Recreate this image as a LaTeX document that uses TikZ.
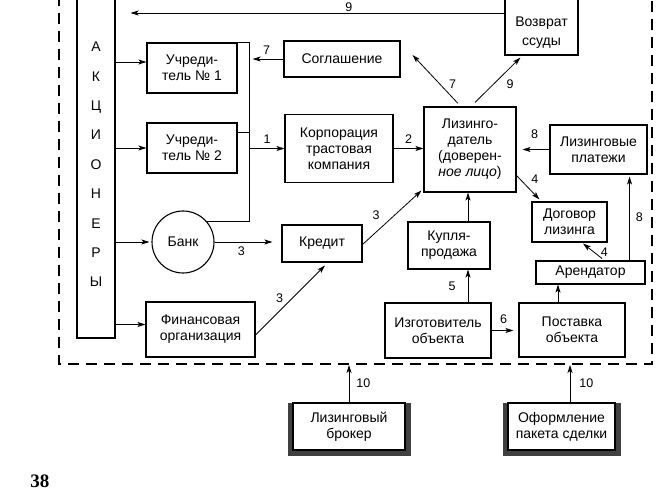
\documentclass[tikz,border=0pt]{standalone}
\usepackage{fontspec}
\setmainfont{Liberation Sans}
\newfontfamily\pagefont{Liberation Serif}
\usetikzlibrary{arrows.meta,calc,backgrounds}
\begin{document}
\begin{tikzpicture}[x=1pt,y=-1pt,
  box/.style={draw, line width=1.1pt, fill=white, inner sep=0pt, align=center, font=\fontsize{14}{16}\selectfont},
  txt/.style={inner sep=0pt, align=center, font=\fontsize{14}{19}\selectfont},
  arr/.style={-{Stealth[length=8pt,width=5pt,inset=2pt]}, line width=0.8pt},
  ln/.style={line width=0.8pt},
  num/.style={font=\fontsize{12.5}{14}\selectfont, inner sep=1pt},
  frame/.style={dash pattern=on 11pt off 7pt, line width=1.1pt},
  shade/.style={fill=black!75}]
\useasboundingbox (0,0) rectangle (669,494);

% dashed frame
\coordinate (frTL) at (59,-5);
\coordinate (frBL) at (59,364);
\coordinate (frBR) at (652,364);
\coordinate (frTR) at (652,-5);
\draw[frame] (frTL) -- (frBL) -- (frBR) -- (frTR);

% nodes
\node[box, minimum width=38, minimum height=347, font=\fontsize{14}{29.4}\selectfont] (akc) at (96,164.5) {А\\К\\Ц\\И\\О\\Н\\Е\\Р\\Ы};
\node[box, minimum width=90, minimum height=50] (u1) at (192,68) {Учреди-\\тель № 1};
\node[box, minimum width=90, minimum height=50] (u2) at (192,148) {Учреди-\\тель № 2};
\node[box, minimum width=116, minimum height=36] (sogl) at (342,59) {Соглашение};
\node[box, minimum width=108, minimum height=68] (korp) at (339,148.5) {Корпорация\\трастовая\\компания};
\node[box, minimum width=92, minimum height=85] (lizd) at (470,149.5) {Лизинго-\\датель\\(доверен-\\\textit{ное лицо})};
\node[box, minimum width=73, minimum height=80] (vozv) at (541.5,15) {};
\node[txt] (vozvt) at (541.5,33) {Возврат\\ссуды};
\node[box, minimum width=97, minimum height=49] (plat) at (598.5,149.5) {Лизинговые\\платежи};
\node[box, minimum width=75, minimum height=40] (dog) at (569.5,222) {Договор\\лизинга};
\node[box, minimum width=109, minimum height=23] (aren) at (590.5,272.5) {Арендатор};
\node[box, minimum width=82, minimum height=47] (kup) at (449,245.5) {Купля-\\продажа};
\node[box, minimum width=106, minimum height=55] (izg) at (438,330.5) {Изготовитель\\объекта};
\node[box, minimum width=106, minimum height=54] (post) at (572,330) {Поставка\\объекта};
\node[box, circle, minimum size=62] (bank) at (183,242) {Банк};
\node[box, minimum width=80, minimum height=37] (kred) at (322,243.5) {Кредит};
\node[box, minimum width=109, minimum height=55] (fin) at (200.5,329.5) {Финансовая\\организация};
\node[box, minimum width=112, minimum height=47] (brok) at (349,426.5) {Лизинговый\\брокер};
\node[box, minimum width=107, minimum height=47] (oform) at (561.5,426.5) {Оформление\\пакета сделки};
\node[font=\pagefont\bfseries\fontsize{19}{20}\selectfont, inner sep=0pt] (page) at (40,481) {38};

\begin{scope}[on background layer]
\fill[shade] ($(brok.north west)+(-4,1)$) rectangle ($(brok.south east)+(5,5)$);
\fill[shade] ($(oform.north west)+(-4,1)$) rectangle ($(oform.south east)+(5,5)$);
\end{scope}

% top return line
\coordinate (t9) at ($(vozv.west)+(0,-2)$);
\coordinate (t9e) at (t9 -| akc.east);
\draw[arr, shorten >=15] (t9) -- (t9e);
\node[num, inner sep=0pt, anchor=south] (n9) at ($(t9)!0.4!(t9e)+(0,-1.5)$) {9};

% from shareholders
\coordinate (u1a) at ($(u1.west)+(0,-6)$);
\coordinate (fina) at ($(fin.west)+(0,-5)$);
\draw[arr] (akc.east |- u1a) -- (u1a);
\draw[arr] (akc.east |- u2.west) -- (u2.west);
\draw[arr, shorten >=2] (akc.east |- bank.west) -- (bank.west);
\draw[arr] (akc.east |- fina) -- (fina);

% founders bracket
\coordinate (bt0) at ($(u1.north east)+(12,0)$);
\draw[ln] (u1.north east) -- (bt0) -- (bt0 |- bank.40) -- (bank.40);
\coordinate (u2b) at ($(u2.east)+(0,-16)$);
\draw[ln] (u2b) -- (u2b -| bt0);
\draw[arr] (bt0 |- korp.west) -- (korp.west) node[num, midway, above=4pt]{1};
\draw[arr, shorten >=3] (sogl.west) -- (sogl.west -| bt0) node[num, midway, above=3pt]{7};

% trust company -> lessor
\draw[arr] (korp.east) -- (korp.east -| lizd.west) node[num, midway, above=4pt]{2};

% lessor -> agreement, return
\draw[arr] ($(lizd.north)+(-12,-3)$) -- ($(sogl.east)+(12,-4)$) node[num, pos=0.4, right=8pt]{7};
\draw[arr] ($(lizd.north)+(5,-4)$) -- ($(vozv.south west)+(16,2)$) node[num, pos=0.4, right=12pt]{9};

% payments
\draw[arr, shorten >=6] (plat.west) -- (plat.west -| lizd.east) node[num, pos=0.45, above=9pt]{8};
\draw[arr] ($(lizd.south east)+(0,-17)$) -- ($(dog.north west)+(8,-2)$) node[num, pos=0.15, right=10pt]{4};
\draw[arr] ($(aren.north)+(11.5,-2)$) -- ($(dog.south)+(13.5,1)$) node[num, pos=0.45, right=6pt]{4};
\coordinate (a8) at ($(aren.north east)+(-16,0)$);
\draw[arr, shorten >=2] (a8) -- (a8 |- plat.south) node[num, midway, right=5pt]{8};
\coordinate (p1) at ($(post.north)+(-14,0)$);
\draw[arr] (p1) -- (p1 |- aren.south);

% purchase
\coordinate (k1) at ($(kup.north)+(19,0)$);
\draw[arr] (k1) -- (k1 |- lizd.south);
\coordinate (i1) at ($(izg.north)+(30,0)$);
\draw[arr] (i1) -- (i1 |- kup.south) node[num, midway, left=11pt]{5};
\draw[arr, shorten >=5] (izg.east) -- (izg.east -| post.west) node[num, pos=0.45, above=5pt]{6};

% credit
\draw[arr, shorten >=9] (bank.east) -- (bank.east -| kred.west) node[num, pos=0.4, below=3pt]{3};
\draw[arr] ($(kred.east)+(0,1)$) -- ($(lizd.south west)+(-2,-2)$) node[num, pos=0.55, left=14pt]{3};
\draw[arr] ($(fin.east)+(0,5.5)$) -- ($(kred.south)+(3,3)$) node[num, pos=0.53, left=8pt]{3};

% broker, package
\draw[arr, shorten >=1] (brok.north) -- (brok.north |- frBL) node[num, midway, right=6pt]{10};
\coordinate (o1) at ($(oform.north)+(8.5,0)$);
\draw[arr, shorten >=1] (o1) -- (o1 |- frBL) node[num, midway, right=8pt]{10};
\end{tikzpicture}
\end{document}
